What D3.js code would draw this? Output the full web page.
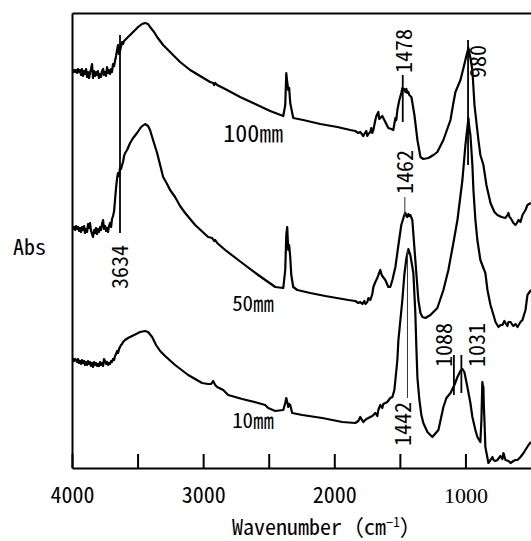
<!DOCTYPE html>
<html>
<head>
<meta charset="utf-8">
<script src="https://cdn.jsdelivr.net/npm/d3@7"></script>
<style>
  body { margin: 0; background: #fff; }
  svg text { font-family: "Noto Sans Mono CJK JP", "Noto Sans CJK JP", "DejaVu Sans Mono", monospace; fill: #000; }
  svg text.serif { font-family: "Liberation Serif", "DejaVu Serif", serif; }
</style>
</head>
<body>
<svg id="chart"></svg>
<script>

//Chart Data  (wavenumber in cm-1, absorbance in arbitrary units, curves offset)
const wn100 = [4000,3992,3984,3976,3969,3961,3954,3946,3939,3931,3924,3916,3908,3901,3893,3885,3878,3870,3863,3855,3847,3840,3832,3824,3817,3809,3802,3794,3786,3779,3771,3763,3756,3748,3740,3733,3725,3718,3710,3702,3695,3687,3679,3672,3664,3656,3649,3641,3634,3626,3618,3611,3603,3580,3557,3534,3496,3466,3443,3420,3405,3374,3351,3305,3252,3176,3099,3023,2947,2924,2916,2908,2893,2832,2718,2603,2489,2389,2374,2366,2359,2351,2344,2336,2313,2237,2107,1977,1878,1840,1817,1802,1779,1771,1756,1748,1740,1725,1718,1710,1702,1687,1679,1664,1657,1649,1634,1611,1588,1565,1550,1542,1534,1527,1519,1504,1489,1481,1473,1466,1458,1450,1443,1435,1428,1412,1389,1366,1343,1321,1282,1244,1214,1168,1114,1092,1076,1038,1015,993,977,962,947,931,901,886,863,840,809,779,756,725,695,680,672,664,656,634,618,603,595,580,565,542,527,500];
const abs100 = [3.97,3.96,3.98,3.96,3.98,3.95,3.99,3.96,3.98,3.93,3.99,3.92,3.97,3.94,3.99,3.91,3.96,3.90,3.95,3.99,4.04,3.90,3.97,3.92,3.96,3.93,3.97,3.90,3.94,3.91,3.97,3.99,3.93,3.96,3.92,4.01,3.95,3.98,3.94,3.99,3.96,4.04,4.02,4.07,4.12,4.18,4.23,4.14,4.17,4.22,4.26,4.24,4.27,4.30,4.33,4.36,4.41,4.44,4.45,4.44,4.41,4.36,4.31,4.23,4.16,4.06,3.98,3.92,3.86,3.85,3.83,3.85,3.83,3.79,3.71,3.64,3.57,3.52,3.63,3.95,3.86,3.78,3.80,3.65,3.50,3.48,3.44,3.41,3.38,3.37,3.35,3.36,3.32,3.34,3.37,3.32,3.34,3.36,3.40,3.35,3.38,3.48,3.52,3.56,3.49,3.50,3.52,3.46,3.40,3.39,3.38,3.44,3.50,3.48,3.58,3.68,3.75,3.80,3.78,3.79,3.76,3.79,3.75,3.76,3.73,3.71,3.53,3.28,3.11,3.09,3.10,3.13,3.16,3.28,3.48,3.65,3.76,3.88,4.00,4.12,4.20,4.10,3.98,3.63,3.28,3.13,3.03,2.83,2.65,2.56,2.53,2.51,2.50,2.53,2.55,2.51,2.50,2.45,2.43,2.46,2.48,2.46,2.53,2.58,2.63,2.65];

const wn50 = [4000,3992,3984,3976,3969,3961,3954,3946,3939,3931,3924,3916,3908,3901,3893,3885,3878,3870,3863,3855,3847,3840,3832,3824,3817,3809,3802,3794,3786,3779,3771,3763,3756,3748,3740,3733,3725,3718,3710,3702,3695,3687,3679,3672,3664,3656,3649,3641,3634,3626,3618,3611,3603,3595,3580,3557,3534,3504,3473,3443,3420,3405,3382,3351,3328,3305,3275,3252,3214,3176,3137,3061,2962,2931,2916,2908,2893,2832,2702,2580,2450,2389,2374,2366,2359,2351,2344,2336,2328,2313,2282,2183,2069,1893,1840,1817,1802,1786,1771,1763,1748,1740,1725,1710,1702,1687,1672,1664,1649,1641,1634,1611,1588,1573,1557,1534,1511,1489,1473,1466,1458,1450,1443,1435,1428,1420,1405,1382,1359,1343,1328,1305,1267,1214,1168,1130,1092,1061,1023,1000,977,970,962,947,939,924,909,886,863,848,832,809,786,771,748,733,718,703,695,680,672,656,641,634,618,603,580,565,542,527,500];
const abs50 = [2.40,2.39,2.41,2.38,2.42,2.39,2.41,2.37,2.40,2.36,2.41,2.38,2.42,2.35,2.39,2.36,2.44,2.40,2.45,2.37,2.34,2.31,2.38,2.35,2.40,2.34,2.39,2.36,2.41,2.38,2.44,2.48,2.39,2.42,2.37,2.40,2.36,2.42,2.45,2.41,2.49,2.52,2.57,2.68,2.80,2.90,2.95,2.92,3.00,2.99,3.03,3.06,3.12,3.15,3.18,3.25,3.30,3.35,3.41,3.44,3.42,3.38,3.28,3.15,3.03,2.91,2.84,2.78,2.71,2.62,2.55,2.43,2.31,2.30,2.27,2.28,2.25,2.18,2.05,1.93,1.81,1.80,1.98,2.33,2.41,2.18,2.23,2.11,1.93,1.81,1.78,1.75,1.72,1.68,1.67,1.65,1.66,1.64,1.67,1.64,1.66,1.70,1.68,1.74,1.81,1.86,1.90,1.93,1.98,1.94,1.92,1.88,1.81,1.81,1.88,2.01,2.23,2.43,2.50,2.53,2.55,2.52,2.51,2.54,2.52,2.53,2.48,2.08,1.68,1.55,1.51,1.50,1.53,1.60,1.78,1.98,2.25,2.48,2.88,3.23,3.50,3.40,3.33,3.03,2.78,2.48,2.28,2.08,2.00,1.95,1.78,1.63,1.53,1.46,1.41,1.43,1.43,1.47,1.45,1.42,1.46,1.46,1.43,1.42,1.44,1.41,1.46,1.48,1.58,1.73,1.78];

const wn10 = [4000,3992,3984,3976,3969,3961,3954,3946,3939,3931,3924,3916,3908,3901,3893,3885,3878,3870,3863,3855,3847,3840,3832,3824,3817,3809,3802,3794,3786,3779,3771,3763,3756,3748,3740,3733,3725,3718,3710,3702,3695,3687,3679,3672,3664,3656,3649,3641,3634,3626,3618,3611,3603,3595,3573,3542,3511,3481,3443,3420,3389,3359,3328,3290,3214,3114,3008,2962,2939,2924,2908,2893,2847,2809,2702,2580,2527,2504,2450,2389,2374,2366,2359,2351,2344,2336,2321,2244,2092,1939,1840,1817,1802,1779,1756,1740,1710,1687,1672,1664,1649,1634,1626,1611,1596,1573,1557,1542,1534,1519,1511,1496,1481,1466,1450,1435,1420,1397,1382,1374,1366,1351,1336,1321,1290,1252,1206,1168,1145,1114,1084,1061,1038,1023,1008,985,962,947,924,909,886,878,871,867,863,859,855,848,832,825,809,794,786,771,756,733,718,710,695,672,656,634,618,603,580,557,519,500];
const abs10 = [1.08,1.09,1.07,1.09,1.08,1.06,1.09,1.05,1.07,1.04,1.08,1.05,1.07,1.03,1.06,1.03,1.07,1.04,1.06,1.02,1.05,1.01,1.06,1.03,1.05,1.02,1.04,1.02,1.06,1.03,1.05,1.02,1.09,1.07,1.04,1.06,1.03,1.05,1.04,1.07,1.06,1.09,1.08,1.12,1.14,1.17,1.15,1.19,1.21,1.23,1.24,1.26,1.27,1.28,1.30,1.32,1.34,1.36,1.37,1.36,1.31,1.23,1.17,1.12,1.03,0.93,0.85,0.84,0.84,0.87,0.83,0.81,0.78,0.73,0.69,0.65,0.63,0.60,0.57,0.58,0.65,0.70,0.66,0.61,0.64,0.63,0.55,0.53,0.50,0.46,0.45,0.47,0.51,0.46,0.49,0.50,0.52,0.55,0.52,0.58,0.63,0.60,0.64,0.65,0.66,0.70,0.71,0.78,0.88,1.08,1.28,1.48,1.68,1.93,2.10,2.19,2.13,1.95,1.55,1.20,0.90,0.68,0.53,0.45,0.36,0.31,0.38,0.61,0.70,0.75,0.83,0.91,0.97,0.99,0.96,0.81,0.65,0.51,0.38,0.31,0.26,0.48,0.86,0.82,0.81,0.60,0.48,0.21,0.10,0.05,0.08,0.11,0.08,0.07,0.08,0.12,0.09,0.15,0.08,0.07,0.05,0.07,0.08,0.08,0.11,0.15,0.23,0.26];

const seriesNames = ["100㎜", "50㎜", "10㎜"];
// where each curve name is written (wavenumber, abs)
const nameWn = [2847, 2779, 2779];
const nameAbs = [3.26, 1.57, 0.40];

const xTicks = [4000, 3500, 3000, 2500, 2000, 1500, 1000];
const xTickLabels = ["4000", "", "3000", "", "2000", "", "1000"];

// peak marks: wavenumber, line top / bottom (abs units)
const peakLabels = ["3634", "1478", "1462", "980", "1442", "1088", "1031"];
const peakWn = [3634, 1478, 1462, 980, 1442, 1088, 1031];
const peakTop = [4.33, 3.93, 2.71, 4.28, 2.18, 1.13, 1.13];
const peakBottom = [2.35, 3.46, 2.51, 3.03, 0.70, 0.73, 0.75];


let svgWidth = 531, svgHeight = 541;
let margin = { top: 13, right: 0, bottom: 73, left: 72 };
let width = svgWidth - margin.left - margin.right, height = svgHeight - margin.top - margin.bottom;

let x = d3.scaleLinear().domain([4000, 500]).range([margin.left, margin.left + width]);
let y = d3.scaleLinear().domain([0, 4.55]).range([margin.top + height, margin.top]);

let svg = d3.select("#chart").attr("width", svgWidth).attr("height", svgHeight);

svg.append("clipPath").attr("id", "plot")
  .append("rect")
  .attr("x", margin.left).attr("y", margin.top)
  .attr("width", width).attr("height", height);

// curves
let series = [
  { wn: wn100, abs: abs100 },
  { wn: wn50, abs: abs50 },
  { wn: wn10, abs: abs10 }
];
let line = d3.line()
  .x(function (d) { return x(d[0]); })
  .y(function (d) { return y(d[1]); });

svg.append("g").attr("clip-path", "url(#plot)")
  .selectAll("path")
  .data(series)
  .enter()
  .append("path")
  .attr("d", function (s) { return line(d3.zip(s.wn, s.abs)); })
  .attr("fill", "none")
  .attr("stroke", "#000")
  .attr("stroke-width", 2.2)
  .attr("stroke-linejoin", "round");

// peak marker lines
let thin = { "1442": true, "1462": true };
svg.append("g")
  .selectAll("line")
  .data(peakLabels)
  .enter()
  .append("line")
  .attr("x1", function (d, i) { return x(peakWn[i]); })
  .attr("x2", function (d, i) { return x(peakWn[i]); })
  .attr("y1", function (d, i) { return y(peakTop[i]); })
  .attr("y2", function (d, i) { return y(peakBottom[i]); })
  .attr("stroke", function (d) { return thin[d] ? "#333" : "#000"; })
  .attr("stroke-width", function (d) { return thin[d] ? 1 : 1.8; });

// where the rotated peak labels sit relative to their line
let labelPlace = {
  "3634": { end: "bottom", dx: 0, dy: 12, anchor: "end" },
  "1478": { end: "top", dx: 1, dy: -2, anchor: "start" },
  "1462": { end: "top", dx: 0, dy: -3, anchor: "start" },
  "980": { end: "top", dx: 10, dy: 38, anchor: "start" },
  "1442": { end: "bottom", dx: -4, dy: 4, anchor: "end" },
  "1088": { end: "top", dx: -10, dy: 12, anchor: "start" },
  "1031": { end: "top", dx: 16, dy: 12, anchor: "start" }
};
svg.append("g")
  .selectAll("text")
  .data(peakLabels)
  .enter()
  .append("text")
  .attr("transform", function (d, i) {
    let p = labelPlace[d];
    let px = x(peakWn[i]) + p.dx;
    let py = (p.end === "top" ? y(peakTop[i]) : y(peakBottom[i])) + p.dy;
    return "translate(" + px + "," + py + ") rotate(-90)";
  })
  .attr("text-anchor", function (d) { return labelPlace[d].anchor; })
  .attr("dy", "0.36em")
  .style("font-size", "22px")
  .text(function (d) { return d; });

// curve names (the 100mm one is set a little larger)
svg.append("g")
  .selectAll("text")
  .data(seriesNames)
  .enter()
  .append("text")
  .attr("x", function (d, i) { return x(nameWn[i]); })
  .attr("y", function (d, i) { return y(nameAbs[i]); })
  .style("font-size", function (d, i) { return i === 0 ? "24px" : "21px"; })
  .text(function (d) { return d; });

// axes
let xAxis = svg.append("g")
  .attr("transform", "translate(0," + (margin.top + height) + ")")
  .call(d3.axisBottom(x)
    .tickValues(xTicks)
    .tickSize(-14)
    .tickSizeOuter(0)
    .tickPadding(19)
    .tickFormat(function (d, i) { return xTickLabels[i]; }));
xAxis.attr("font-family", null);
xAxis.selectAll("line, path").attr("stroke", "#000").attr("stroke-width", 2);
xAxis.selectAll("text")
  .attr("fill", "#000")
  .style("font-size", "22px");
// the 1000 label is set in a serif face on the original
xAxis.selectAll(".tick text")
  .filter(function (d) { return d === 1000; })
  .attr("class", "serif")
  .style("font-size", "22px")
  .attr("fill", "#444");

let yAxis = svg.append("g")
  .attr("transform", "translate(" + margin.left + ",0)")
  .call(d3.axisLeft(y).tickValues([]).tickSizeOuter(0));
yAxis.select("path").attr("stroke", "#000").attr("stroke-width", 2);

let topAxis = svg.append("g")
  .attr("transform", "translate(0," + margin.top + ")")
  .call(d3.axisTop(x).tickValues([]).tickSizeOuter(0));
topAxis.select("path").attr("stroke", "#000").attr("stroke-width", 2);

// axis titles
svg.append("text")
  .attr("x", 13)
  .attr("y", 255)
  .style("font-size", "22px")
  .text("Abs");

let xTitle = svg.append("text")
  .attr("x", 232)
  .attr("y", 535)
  .style("font-size", "22px");
xTitle.append("tspan").text("Wavenumber（cm");
xTitle.append("tspan").attr("dy", -8).style("font-size", "13px").text("−1");
xTitle.append("tspan").attr("dy", 8).text("）");

</script>
</body>
</html>
